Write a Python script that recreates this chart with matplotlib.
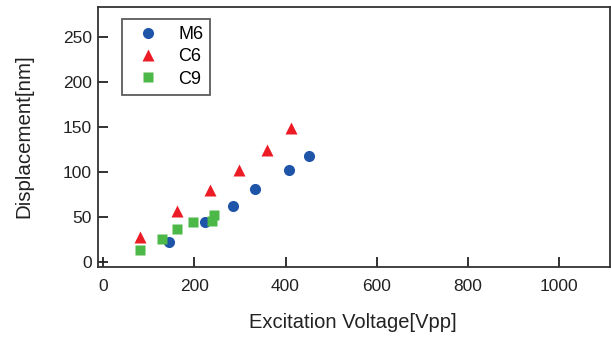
import matplotlib
matplotlib.use("Agg")
import matplotlib.pyplot as plt

m6_x = [145, 223, 284, 333, 407, 452]
m6_y = [22, 43.5, 62, 81, 101.7, 117.5]
c6_x = [80, 161, 233, 298, 359, 411]
c6_y = [27.5, 56, 80, 102, 124, 148]
c9_x = [80, 129, 161, 197, 238, 243]
c9_y = [13, 25, 36, 43.5, 45, 51.7]

xticks = [0, 200, 400, 600, 800, 1000]
yticks = [0, 50, 100, 150, 200, 250]

plt.rcParams['font.family'] = ['Liberation Sans', 'DejaVu Sans']

fig = plt.figure(figsize=(6.11, 3.38), dpi=100)
ax = fig.add_axes([98/611, 1-267/338, 512/611, 260/338])

ax.plot(m6_x, m6_y, 'o', color='#1f55a8', ms=8, mec='none', label='M6')
ax.plot(c6_x, c6_y, '^', color='#ec1c26', ms=8, mec='none', label='C6')
ax.plot(c9_x, c9_y, 's', color='#4cb848', ms=7.3, mec='none', label='C9')

ax.set_xlim(-12, 1113)
ax.set_ylim(-6, 283)
ax.set_xticks(xticks)
ax.set_yticks(yticks)
ax.tick_params(axis='both', direction='in', length=7.5, width=1.3, labelsize=12.5,
               colors='#222222')
ax.tick_params(axis='y', pad=4.5)
ax.tick_params(axis='x', pad=8.5)
for s in ax.spines.values():
    s.set_linewidth(1.3)
    s.set_color('#333333')

ax.set_xlabel('Excitation Voltage[Vpp]', fontsize=14.5, color='#222222')
ax.set_ylabel('Displacement[nm]', fontsize=14.8, color='#222222')
ax.xaxis.set_label_coords(0.497, -0.175)
ax.yaxis.set_label_coords(-0.126, 0.505)

leg = ax.legend(loc='upper left', bbox_to_anchor=(0.047, 0.954), fontsize=13, frameon=True,
                fancybox=False, edgecolor='#333333', handletextpad=0.6, borderpad=0.38,
                borderaxespad=0, labelspacing=0.3, handlelength=2.13)
leg.get_frame().set_linewidth(1.3)

fig.savefig('out.png', dpi=100)
